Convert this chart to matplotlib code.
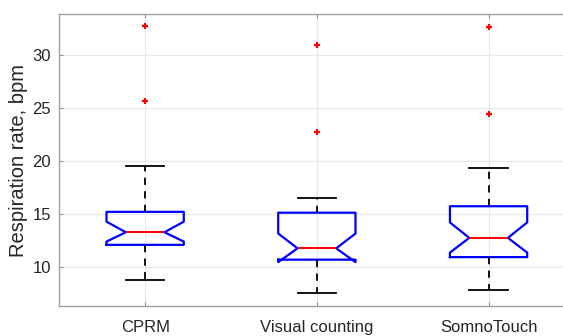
import numpy as np
import matplotlib.pyplot as plt

# Values (bpm)
labels = ["CPRM", "Visual counting", "SomnoTouch"]
medians = [13.27, 11.75, 12.74]
q1 = [12.08, 10.68, 10.92]
q3 = [15.20, 15.12, 15.73]
ci_low = [12.39, 10.45, 11.35]
ci_high = [14.27, 13.15, 14.20]
whisk_low = [8.77, 7.52, 7.83]
whisk_high = [19.53, 16.48, 19.30]
outliers = [[32.75, 25.69], [30.97, 22.74], [32.64, 24.48]]

plt.rcParams['font.family'] = ['Liberation Sans', 'DejaVu Sans']

stats = []
for i in range(len(labels)):
    stats.append(dict(label=labels[i], med=medians[i], q1=q1[i], q3=q3[i],
                      cilo=ci_low[i], cihi=ci_high[i],
                      whislo=whisk_low[i], whishi=whisk_high[i],
                      fliers=np.array(outliers[i])))

fig = plt.figure(figsize=(5.63, 3.36), dpi=100)
ax = fig.add_axes([0.1053, 0.0893, 0.915, 0.869])

ax.grid(True, color='#e8e8e8', lw=0.9)
ax.set_axisbelow(True)

ax.bxp(stats, shownotches=True, widths=0.45,
       boxprops=dict(color='blue', lw=1.6),
       medianprops=dict(color='red', lw=1.4),
       whiskerprops=dict(color='black', lw=1.3, linestyle=(0, (4, 3.5))),
       capprops=dict(color='black', lw=1.3),
       flierprops=dict(marker='+', markeredgecolor='red', markersize=4.5, mew=1.6))

ax.set_xlim(0.5, 3.5)
ax.set_ylim(6.3, 33.9)
ax.set_yticks([10, 15, 20, 25, 30])
ax.set_xticks([1, 2, 3])
ax.set_xticklabels(labels)
ax.tick_params(direction='in', length=3, color='#909090', labelsize=12,
               labelcolor='#262626', top=True, right=True)
ax.tick_params(axis='x', pad=10)
ax.tick_params(axis='y', pad=6)
for s in ax.spines.values():
    s.set_color('#a0a0a0')
    s.set_linewidth(1.0)
ax.set_ylabel("Respiration rate, bpm", fontsize=14.5, color='#262626', labelpad=3)

plt.savefig('out.png', dpi=100)
